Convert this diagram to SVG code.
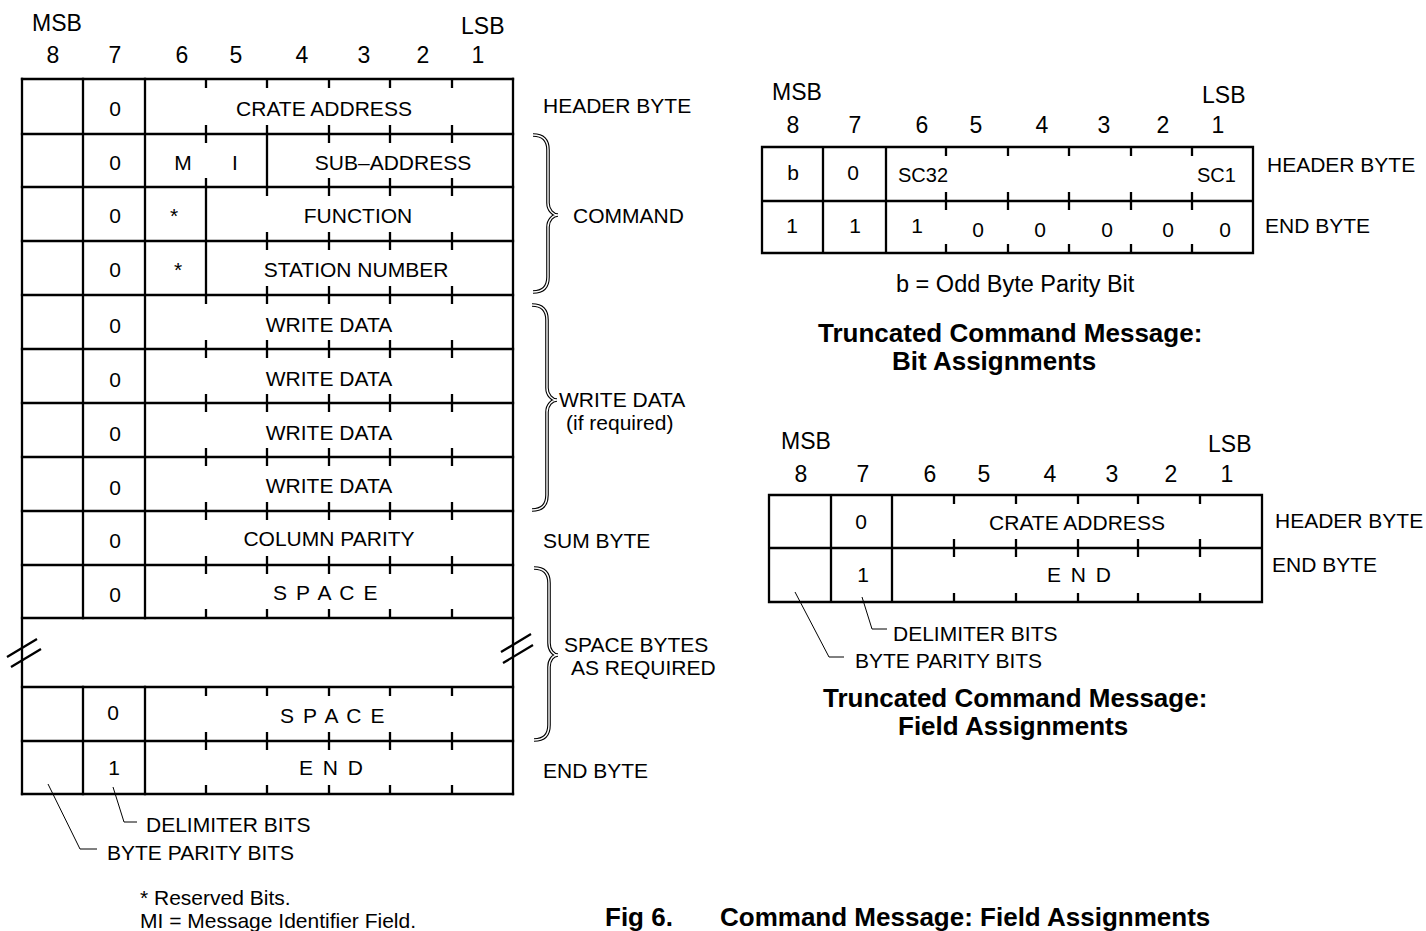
<svg xmlns="http://www.w3.org/2000/svg" width="1426" height="931" viewBox="0 0 1426 931">
<defs>
<style>
text{font-family:"Liberation Sans",Arial,Helvetica,sans-serif;fill:#000}
.c{font-size:21px}
.m{text-anchor:middle}
.h{font-size:23px}
.bt{font-size:26px;font-weight:bold}
.ln{stroke:#000;stroke-width:2.3;fill:none;stroke-linecap:square}
.tk{stroke:#000;stroke-width:2.3;fill:none}
.thin{stroke:#000;stroke-width:1;fill:none}
.br1{stroke:#000;stroke-width:3.6;fill:none}
.br2{stroke:#fff;stroke-width:1.4;fill:none}
.sp{letter-spacing:1.6px}
.sp2{letter-spacing:2px}
</style>
<path id="brCmd" d="M533 135 C543 135 548 140 548 150 L548 203 C548 210 553 215 558 215 C553 215 548 220 548 227 L548 277 C548 287 543 292 533 292"/>
<path id="brWr" d="M532 305 C542 305 547 310 547 320 L547 388 C547 395 552 400 557 400 C552 400 547 405 547 412 L547 495 C547 505 542 510 532 510"/>
<path id="brSp" d="M534 568 C544 568 549 573 549 583 L549 643 C549 650 553 655 558 655 C553 655 549 660 549 667 L549 725 C549 735 544 740 534 740"/>
</defs>
<rect width="1426" height="931" fill="#fff"/>

<g id="main-table">
<text class="h" x="32" y="31">MSB</text>
<text class="h" x="461" y="34">LSB</text>
<g class="h m">
<text x="53" y="63">8</text><text x="115" y="63">7</text><text x="182" y="63">6</text><text x="236" y="63">5</text>
<text x="302" y="63">4</text><text x="364" y="63">3</text><text x="423" y="63">2</text><text x="478" y="63">1</text>
</g>
<path class="ln" d="M22 79H513M22 134H513M22 187H513M22 241H513M22 295H513M22 349H513M22 403H513M22 457H513M22 511H513M22 565H513M22 618H513M22 687H513M22 741H513M22 794H513"/>
<path class="ln" d="M22 79V794M513 79V794M83 79V618M83 687V794M145 79V618M145 687V794M206 187V295M267 134V187"/>
<path class="tk" d="M206 79v9M206 125v18M206 178v9M206 295v9M206 340v18M206 394v18M206 448v18M206 502v18M206 556v18M206 609v9M206 687v9M206 732v18M206 785v9
M267 79v9M267 125v9M267 187v9M267 232v18M267 286v18M267 340v18M267 394v18M267 448v18M267 502v18M267 556v18M267 609v9M267 687v9M267 732v18M267 785v9
M329 79v9M329 125v18M329 178v18M329 232v18M329 286v18M329 340v18M329 394v18M329 448v18M329 502v18M329 556v18M329 609v9M329 687v9M329 732v18M329 785v9
M390 79v9M390 125v18M390 178v18M390 232v18M390 286v18M390 340v18M390 394v18M390 448v18M390 502v18M390 556v18M390 609v9M390 687v9M390 732v18M390 785v9
M452 79v9M452 125v18M452 178v18M452 232v18M452 286v18M452 340v18M452 394v18M452 448v18M452 502v18M452 556v18M452 609v9M452 687v9M452 732v18M452 785v9"/>
<path class="tk" d="M7 657L37 639M11 667L41 649M501 652L531 634M503 663L533 645"/>
<g class="c m">
<text x="115" y="116">0</text><text x="324" y="116">CRATE ADDRESS</text>
<text x="115" y="170">0</text><text x="183" y="170">M</text><text x="235" y="170">I</text><text x="393" y="170">SUB–ADDRESS</text>
<text x="115" y="223">0</text><text x="174" y="223">*</text><text x="358" y="223">FUNCTION</text>
<text x="115" y="277">0</text><text x="178" y="277">*</text><text x="356" y="277">STATION NUMBER</text>
<text x="115" y="333">0</text><text x="329" y="332">WRITE DATA</text>
<text x="115" y="387">0</text><text x="329" y="386">WRITE DATA</text>
<text x="115" y="441">0</text><text x="329" y="440">WRITE DATA</text>
<text x="115" y="495">0</text><text x="329" y="493">WRITE DATA</text>
<text x="115" y="548">0</text><text x="329" y="546">COLUMN PARITY</text>
<text x="115" y="602">0</text><text class="sp" x="326" y="600">S P A C E</text>
<text x="113" y="720">0</text><text class="sp" x="333" y="723">S P A C E</text>
<text x="114" y="775">1</text><text class="sp2" x="332" y="775">E N D</text>
</g>
</g>

<g id="main-labels" class="c">
<text x="543" y="113">HEADER BYTE</text>
<text x="573" y="223">COMMAND</text>
<text x="559" y="407">WRITE DATA</text>
<text x="566" y="430">(if required)</text>
<text x="543" y="548">SUM BYTE</text>
<text x="564" y="652">SPACE BYTES</text>
<text x="571" y="675">AS REQUIRED</text>
<text x="543" y="778">END BYTE</text>
<text x="146" y="832">DELIMITER BITS</text>
<text x="107" y="860">BYTE PARITY BITS</text>
<text x="140" y="905">* Reserved Bits.</text>
<text x="140" y="928">MI = Message Identifier Field.</text>
</g>

<g id="bit-table">
<text class="h" x="772" y="100">MSB</text>
<text class="h" x="1202" y="103">LSB</text>
<g class="h m">
<text x="793" y="133">8</text><text x="855" y="133">7</text><text x="922" y="133">6</text><text x="976" y="133">5</text>
<text x="1042" y="133">4</text><text x="1104" y="133">3</text><text x="1163" y="133">2</text><text x="1218" y="133">1</text>
</g>
<path class="ln" d="M762 147H1253M762 201H1253M762 253H1253M762 147V253M823 147V253M886 147V253M1253 147V253"/>
<path class="tk" d="M946 147v9M946 192v18M946 244v9M1008 147v9M1008 192v18M1008 244v9M1069 147v9M1069 192v18M1069 244v9M1131 147v9M1131 192v18M1131 244v9M1192 147v9M1192 192v18M1192 244v9"/>
<g class="c m">
<text x="793" y="180">b</text><text x="853" y="180">0</text>
<text x="792" y="233">1</text><text x="855" y="233">1</text><text x="917" y="233">1</text>
<text x="978" y="237">0</text><text x="1040" y="237">0</text><text x="1107" y="237">0</text><text x="1168" y="237">0</text><text x="1225" y="237">0</text>
</g>
<text x="898" y="182" style="font-size:20px">SC32</text>
<text x="1197" y="182" style="font-size:20px">SC1</text>
<text class="c" x="1267" y="172">HEADER BYTE</text>
<text class="c" x="1265" y="233">END BYTE</text>
<text x="896" y="292" style="font-size:23.5px">b = Odd Byte Parity Bit</text>
<text class="bt" x="818" y="342">Truncated Command Message:</text>
<text class="bt" x="892" y="370">Bit Assignments</text>
</g>

<g id="field-table">
<text class="h" x="781" y="449">MSB</text>
<text class="h" x="1208" y="452">LSB</text>
<g class="h m">
<text x="801" y="482">8</text><text x="863" y="482">7</text><text x="930" y="482">6</text><text x="984" y="482">5</text>
<text x="1050" y="482">4</text><text x="1112" y="482">3</text><text x="1171" y="482">2</text><text x="1227" y="482">1</text>
</g>
<path class="ln" d="M769 495H1262M769 548H1262M769 602H1262M769 495V602M831 495V602M892 495V602M1262 495V602"/>
<path class="tk" d="M954 495v9M954 539v18M954 593v9M1016 495v9M1016 539v18M1016 593v9M1078 495v9M1078 539v18M1078 593v9M1138 495v9M1138 539v18M1138 593v9M1200 495v9M1200 539v18M1200 593v9"/>
<g class="c m">
<text x="861" y="529">0</text><text x="1077" y="530">CRATE ADDRESS</text>
<text x="863" y="582">1</text><text class="sp2" x="1080" y="582">E N D</text>
</g>
<text class="c" x="1275" y="528">HEADER BYTE</text>
<text class="c" x="1272" y="572">END BYTE</text>
<text class="c" x="893" y="641">DELIMITER BITS</text>
<text class="c" x="855" y="668">BYTE PARITY BITS</text>
<text class="bt" x="823" y="707">Truncated Command Message:</text>
<text class="bt" x="898" y="735">Field Assignments</text>
</g>

<g id="connectors">
<use href="#brCmd" class="br1"/><use href="#brCmd" class="br2"/>
<use href="#brWr" class="br1"/><use href="#brWr" class="br2"/>
<use href="#brSp" class="br1"/><use href="#brSp" class="br2"/>
<path class="thin" d="M48 784L80 849H97M113 787L124 822H137"/>
<path class="thin" d="M795 592L829 657H844M862 597L872 629H887"/>
</g>

<g id="caption">
<text class="bt" x="605" y="926">Fig 6.</text>
<text class="bt" x="720" y="926">Command Message: Field Assignments</text>
</g>
</svg>
